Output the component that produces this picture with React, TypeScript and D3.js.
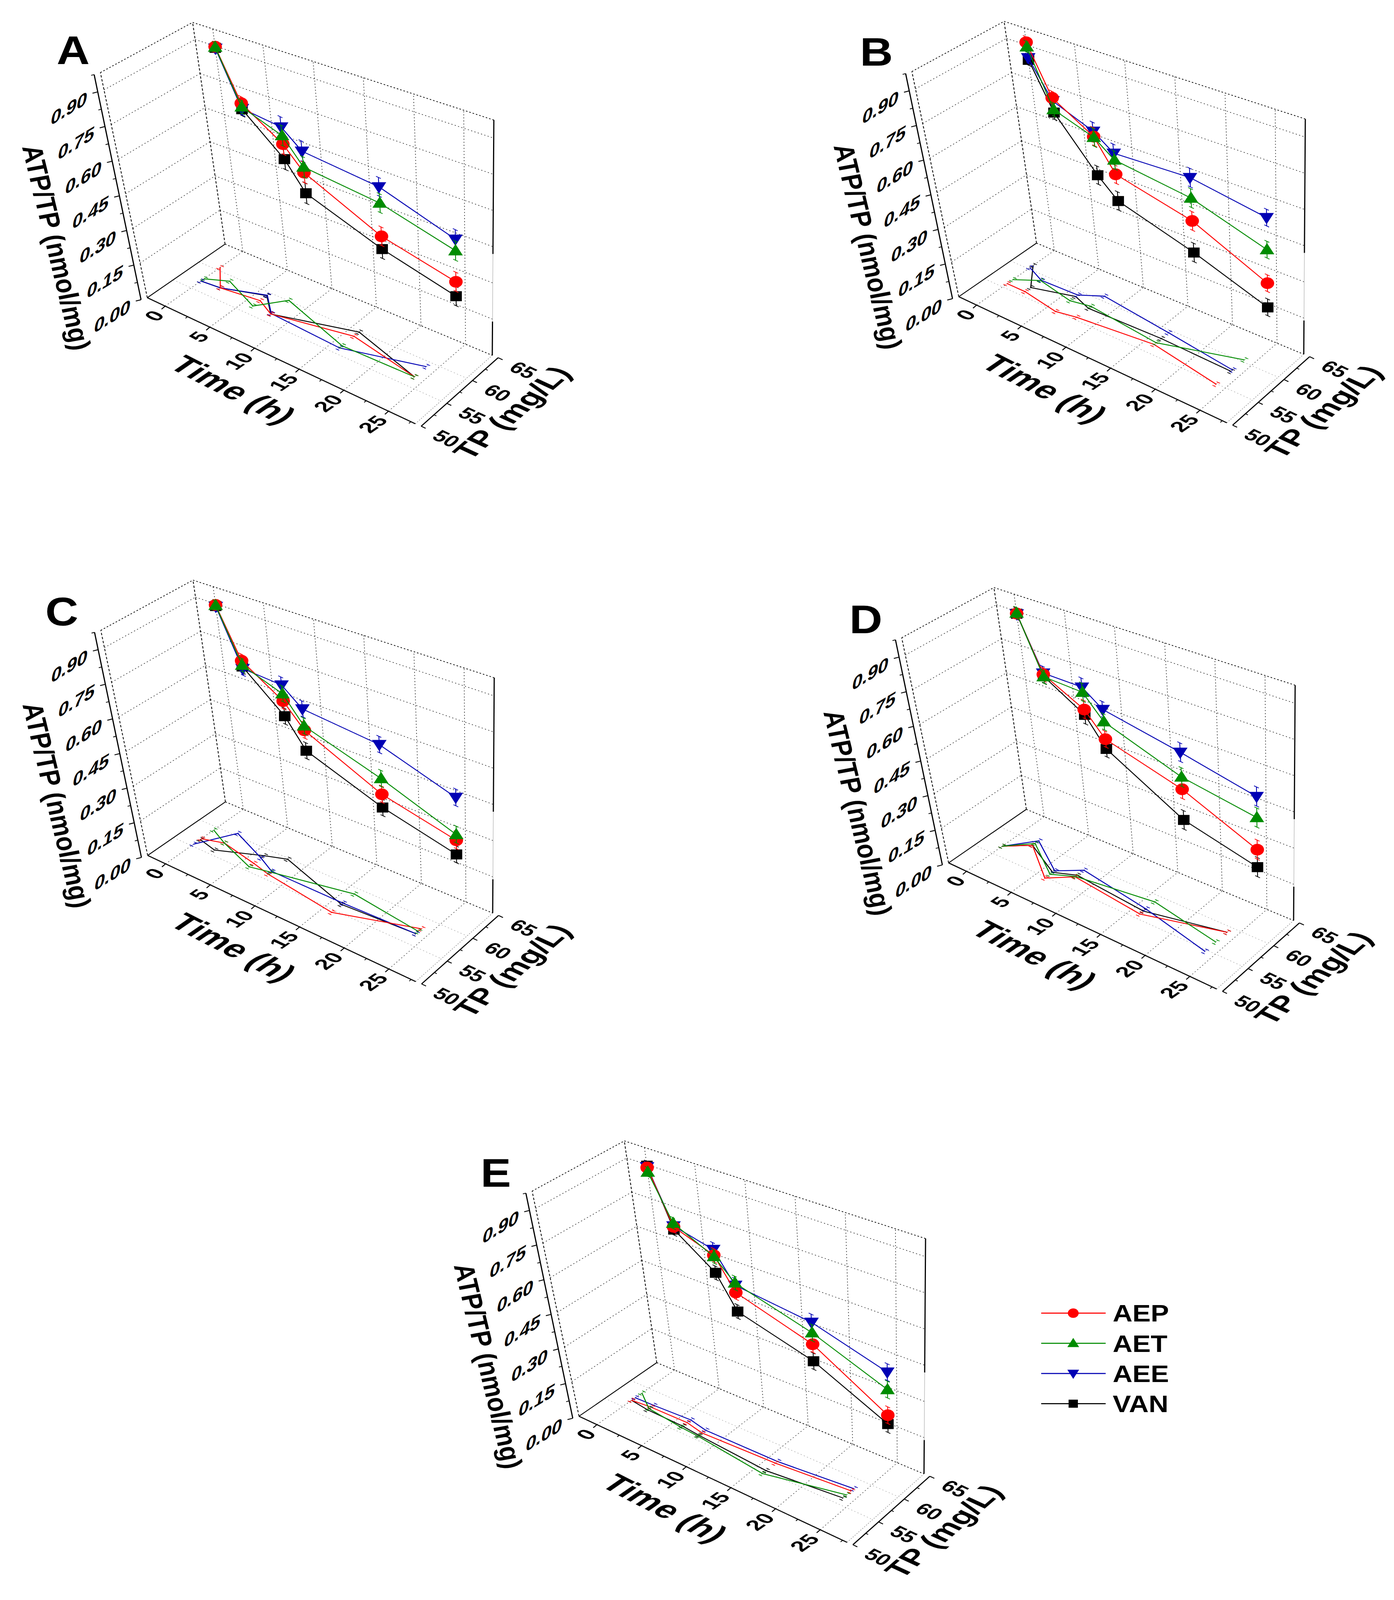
import React from "react";
import { scaleLinear, line, format } from "d3";

type Pt = [number, number];

// ---------- data ----------
const times = [0, 2, 6, 8, 16, 24];
const seriesKeys = ["AEP", "AET", "AEE", "VAN"];
const seriesColors = ["#ff0000", "#008c00", "#0000b4", "#000000"];
const seriesMarkers = ["circle", "up", "down", "square"];

// ATP/TP (nmol/mg), drawn on the back wall
const atpA_AEP = [0.897, 0.679, 0.561, 0.468, 0.316, 0.245];
const atpA_AET = [0.895, 0.663, 0.598, 0.492, 0.457, 0.375];
const atpA_AEE = [0.89, 0.656, 0.635, 0.56, 0.526, 0.423];
const atpA_VAN = [0.892, 0.653, 0.496, 0.379, 0.262, 0.185];

const atpB_AEP = [0.912, 0.698, 0.589, 0.456, 0.377, 0.235];
const atpB_AET = [0.892, 0.647, 0.586, 0.518, 0.474, 0.375];
const atpB_AEE = [0.844, 0.685, 0.612, 0.547, 0.561, 0.509];
const atpB_VAN = [0.835, 0.634, 0.422, 0.341, 0.243, 0.134];

const atpC_AEP = [0.895, 0.68, 0.564, 0.468, 0.315, 0.242];
const atpC_AET = [0.893, 0.661, 0.596, 0.487, 0.382, 0.266];
const atpC_AEE = [0.888, 0.646, 0.634, 0.56, 0.526, 0.421];
const atpC_VAN = [0.89, 0.655, 0.499, 0.38, 0.259, 0.183];

const atpD_AEP = [0.89, 0.653, 0.56, 0.462, 0.368, 0.234];
const atpD_AET = [0.892, 0.643, 0.635, 0.537, 0.42, 0.368];
const atpD_AEE = [0.888, 0.659, 0.657, 0.59, 0.525, 0.456];
const atpD_VAN = [0.889, 0.645, 0.537, 0.42, 0.238, 0.161];

const atpE_AEP = [0.887, 0.657, 0.593, 0.462, 0.361, 0.183];
const atpE_AET = [0.867, 0.673, 0.587, 0.503, 0.41, 0.29];
const atpE_AEE = [0.89, 0.661, 0.618, 0.493, 0.454, 0.363];
const atpE_VAN = [0.895, 0.645, 0.517, 0.38, 0.289, 0.146];

// TP (mg/L), drawn on the floor
const tpA_AEP = [60.6, 57.2, 58.0, 56.6, 58.9, 56.8];
const tpA_AET = [57.5, 59.0, 56.6, 60.1, 56.6, 56.8];
const tpA_AEE = [56.9, 57.2, 59.4, 56.7, 56.1, 59.1];
const tpA_VAN = [56.9, 57.2, 59.3, 56.6, 59.9, 56.8];

const tpB_AEP = [55.9, 55.9, 54.9, 55.5, 56.7, 54.9];
const tpB_AET = [57.0, 58.9, 57.7, 58.3, 57.1, 60.4];
const tpB_AEE = [60.3, 59.0, 59.2, 60.9, 59.5, 58.1];
const tpB_VAN = [60.9, 57.0, 58.8, 57.8, 58.1, 57.8];

const tpC_AEP = [56.9, 57.9, 56.7, 56.0, 54.5, 58.1];
const tpC_AET = [59.3, 57.9, 55.8, 56.5, 58.9, 57.5];
const tpC_AEE = [55.4, 60.5, 58.1, 56.7, 56.7, 57.0];
const tpC_VAN = [56.7, 56.0, 58.7, 59.8, 56.4, 57.0];

const tpD_AEP = [56.9, 59.3, 54.8, 57.2, 55.9, 59.0];
const tpD_AET = [56.9, 59.8, 55.8, 57.3, 58.8, 56.8];
const tpD_AEE = [56.9, 60.5, 56.7, 58.9, 57.1, 54.7];
const tpD_VAN = [56.9, 59.3, 56.3, 57.6, 56.6, 59.0];

const tpE_AEP = [56.7, 57.0, 57.1, 56.5, 56.9, 57.8];
const tpE_AET = [58.7, 56.6, 55.9, 55.7, 54.4, 56.9];
const tpE_AEE = [57.4, 57.5, 57.8, 57.2, 57.3, 58.3];
const tpE_VAN = [56.7, 56.3, 56.2, 55.9, 55.1, 56.2];

// error bars (ATP/TP)
const errA = [0.02, 0.03, 0.045, 0.045, 0.04, 0.04];
const errB = [0.025, 0.03, 0.04, 0.04, 0.04, 0.035];
const errC = [0.02, 0.03, 0.035, 0.035, 0.035, 0.035];
const errD = [0.025, 0.03, 0.04, 0.035, 0.04, 0.04];
const errE = [0.02, 0.025, 0.03, 0.03, 0.035, 0.035];
const tpErr = 0.4;

// axis ticks
const zMajor = [0, 0.15, 0.3, 0.45, 0.6, 0.75, 0.9];
const zMinor = [0.075, 0.225, 0.375, 0.525, 0.675, 0.825, 0.975];
const timeMajor = [0, 5, 10, 15, 20, 25];
const timeMinor = [2.5, 7.5, 12.5, 17.5, 22.5, 27.5];
const tpMajor = [50, 55, 60, 65];
const tpMinor = [52.5, 57.5, 62.5];

// ---------- geometry (panel A box corners, figure pixels) ----------
const FIG_W = 3568;
const FIG_H = 4719;
const FLB: Pt = [377, 878];
const FRB: Pt = [1063, 1250];
const BLB: Pt = [576, 720];
const BRB: Pt = [1260, 1048];
const FLT: Pt = [257, 214];
const FRT: Pt = [1030, 544];
const BLT: Pt = [493, 66];
const BRT: Pt = [1264, 354];

const tScale = scaleLinear().domain([-2, 28]).range([0, 1]);
const pScale = scaleLinear().domain([50, 65]).range([0, 1]);
const zScale = scaleLinear().domain([0, 0.975]).range([0, 1]);

const mix = (a: Pt, b: Pt, s: number): Pt => [a[0] + (b[0] - a[0]) * s, a[1] + (b[1] - a[1]) * s];

function project(t: number, p: number, z: number, off: Pt): Pt {
  const u = tScale(t);
  const v = pScale(p);
  const w = zScale(z);
  const bottom = mix(mix(FLB, FRB, u), mix(BLB, BRB, u), v);
  const top = mix(mix(FLT, FRT, u), mix(BLT, BRT, u), v);
  const q = mix(bottom, top, w);
  return [q[0] + off[0], q[1] + off[1]];
}

const FONT = "'Liberation Sans', Arial, Helvetica, sans-serif";
const TIME_DIR: Pt = [0.879, 0.477];
const OUT_DIR: Pt = [-0.71, 0.7];
const zAxisOff: Pt = [-16, 6];
const tpAxisOff: Pt = [15, 7];
const fmt2 = format(".2f");

const panelOffsets: Record<string, Pt> = {
  A: [0, 0],
  B: [2077, -3],
  C: [1, 1645],
  D: [2051, 1667],
  E: [1105, 3299],
};
const letterPos: Record<string, Pt> = {
  A: [145, 189],
  B: [2201, 194],
  C: [116, 1845],
  D: [2174, 1867],
  E: [1230, 3500],
};

const panels = [
  { id: "A", atp: [atpA_AEP, atpA_AET, atpA_AEE, atpA_VAN], tp: [tpA_AEP, tpA_AET, tpA_AEE, tpA_VAN], err: errA },
  { id: "B", atp: [atpB_AEP, atpB_AET, atpB_AEE, atpB_VAN], tp: [tpB_AEP, tpB_AET, tpB_AEE, tpB_VAN], err: errB },
  { id: "C", atp: [atpC_AEP, atpC_AET, atpC_AEE, atpC_VAN], tp: [tpC_AEP, tpC_AET, tpC_AEE, tpC_VAN], err: errC },
  { id: "D", atp: [atpD_AEP, atpD_AET, atpD_AEE, atpD_VAN], tp: [tpD_AEP, tpD_AET, tpD_AEE, tpD_VAN], err: errD },
  { id: "E", atp: [atpE_AEP, atpE_AET, atpE_AEE, atpE_VAN], tp: [tpE_AEP, tpE_AET, tpE_AEE, tpE_VAN], err: errE },
];

const drawOrder = [3, 2, 0, 1];

function Marker(props: { kind: string; x: number; y: number; s: number; color: string }) {
  const { kind, x, y, s, color } = props;
  if (kind === "circle") return <circle cx={x} cy={y} r={s * 0.48} fill={color} />;
  if (kind === "up")
    return <path d={`M${x},${y - s * 0.55}L${x + s * 0.52},${y + s * 0.38}L${x - s * 0.52},${y + s * 0.38}Z`} fill={color} />;
  if (kind === "down")
    return <path d={`M${x},${y + s * 0.55}L${x + s * 0.52},${y - s * 0.38}L${x - s * 0.52},${y - s * 0.38}Z`} fill={color} />;
  return <rect x={x - s * 0.41} y={y - s * 0.41} width={s * 0.82} height={s * 0.82} fill={color} />;
}

function SkewText(props: {
  x: number;
  y: number;
  xd: Pt;
  dn: Pt;
  fs: number;
  anchor: string;
  children: React.ReactNode;
}) {
  const { x, y, xd, dn, fs, anchor, children } = props;
  return (
    <text
      transform={`matrix(${xd[0]},${xd[1]},${dn[0]},${dn[1]},${x},${y})`}
      fontFamily={FONT}
      fontWeight="bold"
      fontSize={fs}
      textAnchor={anchor}
      dy="0.35em"
      fill="#000"
    >
      {children}
    </text>
  );
}

function Seg(props: { a: Pt; b: Pt; stroke: string; w: number; dash?: string }) {
  const { a, b, stroke, w, dash } = props;
  return <line x1={a[0]} y1={a[1]} x2={b[0]} y2={b[1]} stroke={stroke} strokeWidth={w} strokeDasharray={dash} />;
}

function Panel(props: { id: string; atp: number[][]; tp: number[][]; err: number[] }) {
  const { id, atp, tp, err } = props;
  const off = panelOffsets[id];
  const P = (t: number, p: number, z: number) => project(t, p, z, off);
  const add = (a: Pt, b: Pt, k = 1): Pt => [a[0] + b[0] * k, a[1] + b[1] * k];
  const path = line<Pt>()
    .x((d) => d[0])
    .y((d) => d[1]);

  const gridColor = "#333";
  const gridDash = "3 6";
  const edgeDash = "4 5";

  const zAxisPt = (z: number) => add(P(-2, 50, z), zAxisOff);
  const tpAxisPt = (p: number) => add(P(28, p, 0), tpAxisOff);

  return (
    <g>
      {/* grid: back wall */}
      {timeMajor.map((t) => (
        <Seg key={`bv${t}`} a={P(t, 65, 0)} b={P(t, 65, 0.975)} stroke={gridColor} w={1.8} dash={gridDash} />
      ))}
      {zMajor.slice(1).map((z) => (
        <Seg key={`bh${z}`} a={P(-2, 65, z)} b={P(28, 65, z)} stroke={gridColor} w={1.8} dash={gridDash} />
      ))}
      {/* grid: left wall */}
      {zMajor.slice(1).map((z) => (
        <Seg key={`lh${z}`} a={P(-2, 50, z)} b={P(-2, 65, z)} stroke={gridColor} w={1.8} dash={gridDash} />
      ))}
      {/* grid: floor */}
      {timeMajor.map((t) => (
        <Seg key={`fd${t}`} a={P(t, 50, 0)} b={P(t, 65, 0)} stroke="#555" w={1.8} dash={gridDash} />
      ))}
      {[55, 60].map((p) => (
        <Seg key={`ft${p}`} a={P(-2, p, 0)} b={P(28, p, 0)} stroke="#aaa" w={1.5} dash={gridDash} />
      ))}

      {/* box edges */}
      <Seg a={P(-2, 65, 0)} b={P(28, 65, 0)} stroke="#111" w={2.2} dash={edgeDash} />
      <Seg a={P(28, 50, 0)} b={P(28, 65, 0)} stroke="#999" w={1.8} dash="3 4" />
      <Seg a={P(-2, 50, 0)} b={P(-2, 65, 0)} stroke="#000" w={2.4} />
      <Seg a={P(-2, 50, 0)} b={P(-2, 50, 0.975)} stroke="#111" w={2.2} dash="7 5" />
      <Seg a={P(-2, 65, 0)} b={P(-2, 65, 0.975)} stroke="#111" w={2.2} dash="7 5" />
      <Seg a={P(-2, 50, 0.975)} b={P(-2, 65, 0.975)} stroke="#111" w={2.2} dash={edgeDash} />
      <Seg a={P(-2, 65, 0.975)} b={P(28, 65, 0.975)} stroke="#111" w={2.2} dash={edgeDash} />
      <Seg a={P(28, 65, 0.975)} b={P(28, 65, 0.42)} stroke="#000" w={3} />
      <Seg a={P(28, 65, 0.42)} b={P(28, 65, 0.14)} stroke="#bbb" w={1.5} />
      <Seg a={P(28, 65, 0.14)} b={P(28, 65, 0)} stroke="#000" w={3} />

      {/* time axis */}
      <Seg a={P(-2, 50, 0)} b={P(28, 50, 0)} stroke="#000" w={3} />
      {timeMajor.map((t) => (
        <Seg key={`tt${t}`} a={P(t, 50, 0)} b={add(P(t, 50, 0), OUT_DIR, 13)} stroke="#000" w={2.6} />
      ))}
      {timeMinor.map((t) => (
        <Seg key={`tm${t}`} a={P(t, 50, 0)} b={add(P(t, 50, 0), OUT_DIR, 7)} stroke="#000" w={2.2} />
      ))}
      {timeMajor.map((t) => {
        const q = add(P(t, 50, 0), [-16, 19]);
        return (
          <SkewText key={`tl${t}`} x={q[0]} y={q[1]} xd={[0.78, -0.62]} dn={TIME_DIR} fs={56} anchor="end">
            {String(t)}
          </SkewText>
        );
      })}

      {/* TP axis */}
      <Seg a={tpAxisPt(50)} b={tpAxisPt(65)} stroke="#000" w={3} />
      {tpMajor.map((p) => (
        <Seg key={`pt${p}`} a={tpAxisPt(p)} b={add(tpAxisPt(p), TIME_DIR, 13)} stroke="#000" w={2.6} />
      ))}
      {tpMinor.map((p) => (
        <Seg key={`pm${p}`} a={tpAxisPt(p)} b={add(tpAxisPt(p), TIME_DIR, 7)} stroke="#000" w={2.2} />
      ))}
      {tpMajor.map((p) => {
        const q = add(tpAxisPt(p), [38, 22]);
        return (
          <SkewText key={`pl${p}`} x={q[0]} y={q[1]} xd={TIME_DIR} dn={[-0.7, 0.72]} fs={54} anchor="start">
            {String(p)}
          </SkewText>
        );
      })}

      {/* ATP/TP axis */}
      <Seg a={zAxisPt(0)} b={zAxisPt(0.975)} stroke="#000" w={3} />
      {zMajor.map((z) => (
        <Seg key={`zt${z}`} a={zAxisPt(z)} b={add(zAxisPt(z), [-0.96, 0.28], 14)} stroke="#000" w={2.6} />
      ))}
      {zMinor.map((z) => (
        <Seg key={`zm${z}`} a={zAxisPt(z)} b={add(zAxisPt(z), [-0.96, 0.28], 8)} stroke="#000" w={2.2} />
      ))}
      {zMajor.map((z) => {
        const q = add(zAxisPt(z), [-27, 16]);
        return (
          <SkewText key={`zl${z}`} x={q[0]} y={q[1]} xd={[0.82, -0.57]} dn={[-0.15, 0.99]} fs={58} anchor="end">
            {fmt2(z)}
          </SkewText>
        );
      })}

      {/* axis titles */}
      <SkewText x={145 + off[0]} y={730 + off[1]} xd={[0.208, 0.978]} dn={[-0.978, 0.208]} fs={72} anchor="middle">
        ATP/TP (nmol/mg)
      </SkewText>
      <SkewText x={597 + off[0]} y={1149 + off[1]} xd={[0.86, 0.51]} dn={[-0.78, 0.62]} fs={87} anchor="middle">
        Time (h)
      </SkewText>
      <SkewText x={1310 + off[0]} y={1217 + off[1]} xd={[0.712, -0.702]} dn={[0.88, 0.47]} fs={80} anchor="middle">
        TP (mg/L)
      </SkewText>

      {/* panel letter */}
      <text x={letterPos[id][0]} y={letterPos[id][1]} fontFamily={FONT} fontWeight="bold" fontSize={117}>
        {id}
      </text>

      {/* floor projections: TP vs time */}
      {drawOrder.map((si) => {
        const pts = times.map((t, i) => P(t, tp[si][i], 0));
        return (
          <g key={`floor${si}`} stroke={seriesColors[si]} fill="none">
            <path d={path(pts) || ""} strokeWidth={2.7} />
            {times.map((t, i) => {
              const lo = P(t, tp[si][i] - tpErr, 0);
              const hi = P(t, tp[si][i] + tpErr, 0);
              return (
                <g key={i}>
                  <Seg a={lo} b={hi} stroke={seriesColors[si]} w={1.4} dash="2 2" />
                  <Seg a={add(lo, TIME_DIR, -5)} b={add(lo, TIME_DIR, 5)} stroke={seriesColors[si]} w={1.8} />
                  <Seg a={add(hi, TIME_DIR, -5)} b={add(hi, TIME_DIR, 5)} stroke={seriesColors[si]} w={1.8} />
                </g>
              );
            })}
          </g>
        );
      })}

      {/* ATP/TP on the back wall */}
      {drawOrder.map((si) => {
        const pts = times.map((t, i) => P(t, 65, atp[si][i]));
        return (
          <g key={`wall${si}`}>
            <path d={path(pts) || ""} stroke={seriesColors[si]} strokeWidth={2.6} fill="none" />
            {times.map((t, i) => {
              const lo = P(t, 65, atp[si][i] - err[i]);
              const hi = P(t, 65, atp[si][i] + err[i]);
              return (
                <g key={i}>
                  <Seg a={lo} b={hi} stroke={seriesColors[si]} w={2.2} />
                  <Seg a={add(hi, TIME_DIR, -7)} b={add(hi, TIME_DIR, 7)} stroke={seriesColors[si]} w={2} />
                  <Seg a={add(lo, TIME_DIR, -7)} b={add(lo, TIME_DIR, 7)} stroke={seriesColors[si]} w={2} />
                </g>
              );
            })}
            {pts.map((q, i) => (
              <Marker key={i} kind={seriesMarkers[si]} x={q[0]} y={q[1]} s={36} color={seriesColors[si]} />
            ))}
          </g>
        );
      })}
    </g>
  );
}

function Legend() {
  const rowY = scaleLinear().domain([0, 3]).range([3873, 4140]);
  return (
    <g>
      {seriesKeys.map((k, i) => {
        const y = rowY(i);
        return (
          <g key={k}>
            <line x1={2665} x2={2830} y1={y} y2={y} stroke={seriesColors[i]} strokeWidth={3.2} />
            <Marker kind={seriesMarkers[i]} x={2747} y={y} s={29} color={seriesColors[i]} />
            <text x={2848} y={y + 25} fontFamily={FONT} fontWeight="bold" fontSize={70}>
              {k}
            </text>
          </g>
        );
      })}
    </g>
  );
}

export default function App() {
  // the browser window may be shorter than the figure: stretch the figure to the visible area
  return (
    <svg
      viewBox={`0 0 ${FIG_W} ${FIG_H}`}
      preserveAspectRatio="none"
      style={{ position: "absolute", left: 0, top: 0, width: "100vw", height: "100vh", background: "#fff" }}
    >
      <rect x={0} y={0} width={FIG_W} height={FIG_H} fill="#fff" />
      {panels.map((p) => (
        <Panel key={p.id} id={p.id} atp={p.atp} tp={p.tp} err={p.err} />
      ))}
      <Legend />
    </svg>
  );
}
